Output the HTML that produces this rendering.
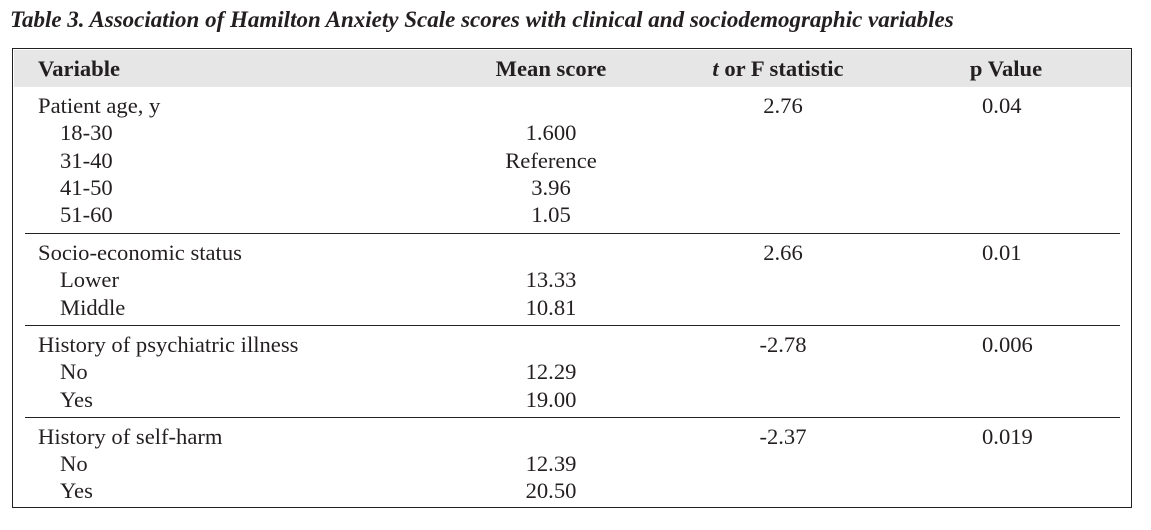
<!DOCTYPE html>
<html><head><meta charset="utf-8"><style>
body{margin:0;width:1151px;height:530px;background:#fff;position:relative;font-family:"Liberation Serif",serif;color:#231f20;overflow:hidden}
.t{position:absolute;font-size:22.6px;line-height:24px;white-space:nowrap}
.c{transform:translateX(-50%)}
.b{font-weight:bold}
.hr{position:absolute;left:25px;width:1095px;height:0;border-top:1.5px solid #222}
</style></head><body>
<div class="t b" style="left:10px;top:8px;font-style:italic;font-size:23px">Table 3. Association of Hamilton Anxiety Scale scores with clinical and sociodemographic variables</div>
<div style="position:absolute;left:12px;top:48px;width:1120px;height:460px;border:1.5px solid #222;box-sizing:border-box"></div>
<div style="position:absolute;left:13.5px;top:49.5px;width:1117px;height:37px;background:#e6e6e6"></div>
<div class="t b" style="left:38px;top:57px">Variable</div>
<div class="t b c" style="left:551px;top:57px">Mean score</div>
<div class="t b c" style="left:778px;top:57px"><i>t</i> or F statistic</div>
<div class="t b c" style="left:1006px;top:57px">p Value</div>
<div class="hr" style="top:233px"></div>
<div class="hr" style="top:325px"></div>
<div class="hr" style="top:417px"></div>
<script>
const labels=["Patient age, y","18-30","31-40","41-50","51-60","Socio-economic status","Lower","Middle","History of psychiatric illness","No","Yes","History of self-harm","No","Yes"];
const indent=[0,1,1,1,1,0,1,1,0,1,1,0,1,1];
const means=["","1.600","Reference","3.96","1.05","","13.33","10.81","","12.29","19.00","","12.39","20.50"];
const stats=["2.76","","","","","2.66","","","-2.78","","","-2.37","",""];
const pvals=["0.04","","","","","0.01","","","0.006","","","0.019","",""];
const tops=[94,121,149,176,203,241,268,296,333,360,388,425,452,479];
const root=document.body;
function add(txt,left,top,center,name){
  if(!txt)return;
  const d=document.createElement('div');
  d.className='t'+(center?' c':'');
  d.style.left=left+'px';d.style.top=top+'px';d.textContent=txt;
  
  
  root.appendChild(d);
}
labels.forEach((l,i)=>{
  add(l,indent[i]?60:38,tops[i],false,'row-label');
  add(means[i],551,tops[i],true,'mean-score');
  add(stats[i],783,tops[i],true,'statistic');
  add(pvals[i],982,tops[i],false,'p-value');
});
</script>
</body></html>
